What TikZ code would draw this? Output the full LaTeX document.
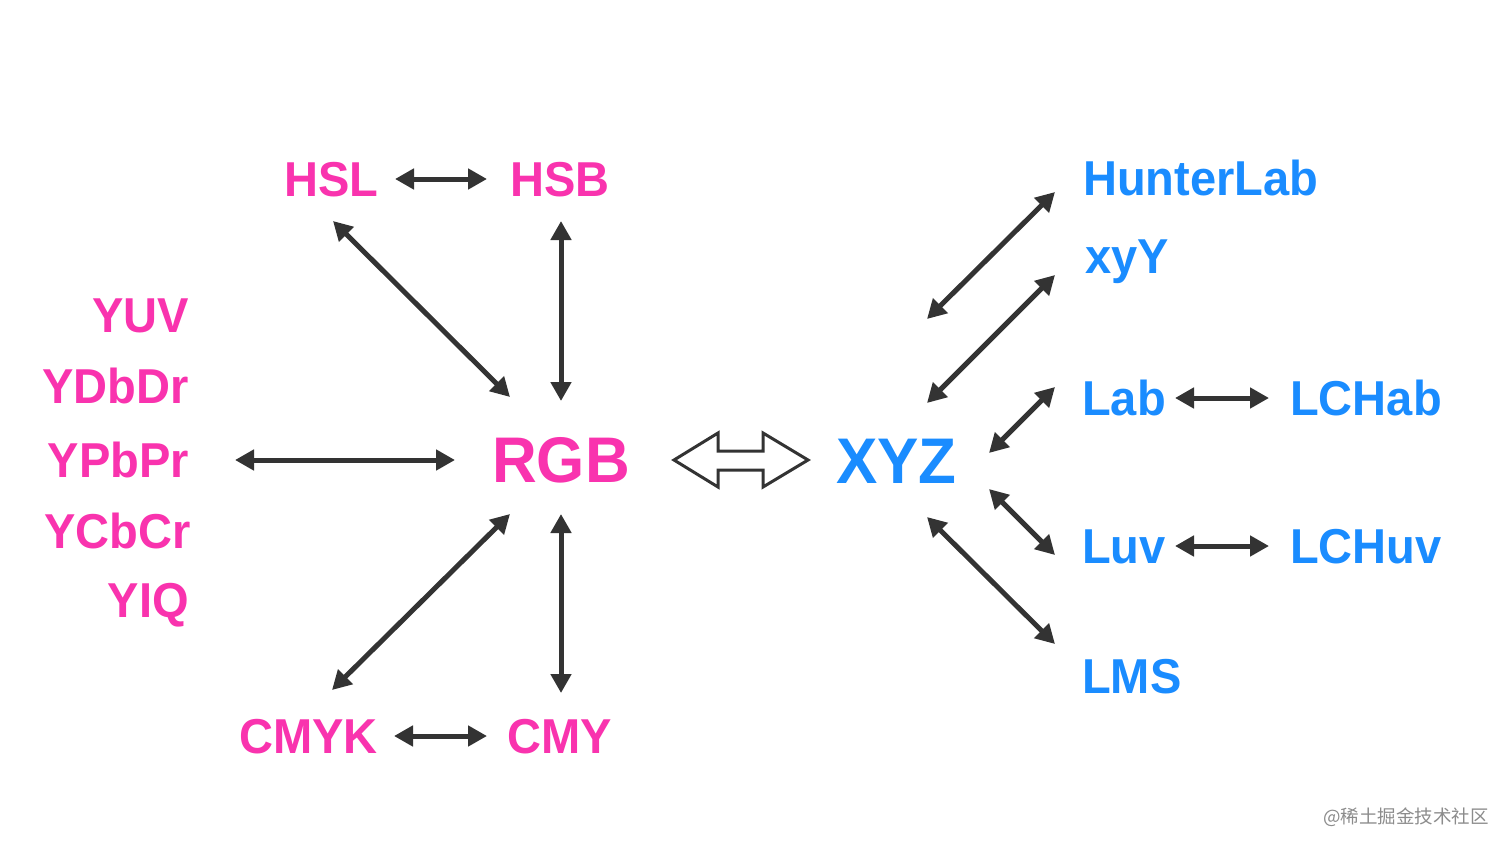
\documentclass[tikz,border=0pt]{standalone}
\usepackage{fontspec}
\setmainfont{Liberation Sans}
\newfontfamily\narrowfont[FakeStretch=0.96]{Liberation Sans}
\newfontfamily\cjk{Noto Sans CJK SC}
\usetikzlibrary{arrows.meta}
\definecolor{pinkc}{HTML}{F933AE}
\definecolor{bluec}{HTML}{1A8CFF}
\definecolor{arrc}{HTML}{333333}
\tikzset{
  lbl/.style={font=\narrowfont\bfseries\fontsize{49}{49}\selectfont, inner sep=0pt},
  big/.style={font=\narrowfont\bfseries\fontsize{64.5}{64.5}\selectfont, inner sep=0pt},
  pk/.style={text=pinkc},
  bl/.style={text=bluec},
  dbl/.style={draw=arrc, line width=5pt, {Triangle[length=19pt,width=20pt]}-{Triangle[length=19pt,width=20pt]}, color=arrc},
}
\begin{document}
\begin{tikzpicture}[x=1pt,y=-1pt]
\useasboundingbox (0,0) rectangle (1512,851);
\fill[white] (0,0) rectangle (1512,851);
% pink nodes
\node[lbl,pk,anchor=base west] (hsl) at (284,196) {HSL};
\node[lbl,pk,anchor=base west] (hsb) at (510,196) {HSB};
\node[lbl,pk,anchor=base east] (yuv) at (189,332) {YUV};
\node[lbl,pk,anchor=base east] (ydbdr) at (189,403) {YDbDr};
\node[lbl,pk,anchor=base east] (ypbpr) at (189,477) {YPbPr};
\node[lbl,pk,anchor=base east] (ycbcr) at (191,548) {YCbCr};
\node[lbl,pk,anchor=base east] (yiq) at (189,617) {YIQ};
\node[big,pk,anchor=base west] (rgb) at (492,482) {RGB};
\node[lbl,pk,anchor=base west] (cmyk) at (239,753) {CMYK};
\node[lbl,pk,anchor=base west] (cmy) at (507,753) {CMY};
% blue nodes
\node[big,bl,anchor=base west] (xyz) at (836,483) {XYZ};
\node[lbl,bl,anchor=base west] (hunter) at (1083,195) {HunterLab};
\node[lbl,bl,anchor=base west] (xyy) at (1085,273) {xyY};
\node[lbl,bl,anchor=base west] (lab) at (1082,415) {Lab};
\node[lbl,bl,anchor=base west] (lchab) at (1290,415) {LCHab};
\node[lbl,bl,anchor=base west] (luv) at (1082,563) {Luv};
\node[lbl,bl,anchor=base west] (lchuv) at (1290,563) {LCHuv};
\node[lbl,bl,anchor=base west] (lms) at (1082,693) {LMS};
% endpoints
\coordinate (a1) at (395,179); \coordinate (a2) at (487,179);
\coordinate (b1) at (333,221); \coordinate (b2) at (510,397);
\coordinate (c1) at (561,221); \coordinate (c2) at (561,401);
\coordinate (d1) at (235,460); \coordinate (d2) at (455,460);
\coordinate (e1) at (332,690); \coordinate (e2) at (510,514);
\coordinate (f1) at (561,693); \coordinate (f2) at (561,514);
\coordinate (g1) at (394,736); \coordinate (g2) at (487,736);
\coordinate (h1) at (927,319); \coordinate (h2) at (1055,192);
\coordinate (i1) at (927,403); \coordinate (i2) at (1055,275);
\coordinate (j1) at (989,453); \coordinate (j2) at (1055,387);
\coordinate (k1) at (989,489); \coordinate (k2) at (1055,555);
\coordinate (l1) at (927,517); \coordinate (l2) at (1055,644);
\coordinate (m1) at (1175,398); \coordinate (m2) at (1269,398);
\coordinate (n1) at (1175,546); \coordinate (n2) at (1269,546);
\foreach \p in {a,b,c,d,e,f,g,h,i,j,k,l,m,n}{
  \draw[dbl] (\p1) -- (\p2);
}
% hollow double arrow
\draw[arrc, line width=3pt, line join=miter, fill=white]
  (674,460) -- (718,433) -- (718,451) -- (763,451) -- (763,433) -- (808,460)
  -- (763,487) -- (763,470) -- (718,470) -- (718,487) -- cycle;
% watermark
\node[inner sep=0pt, anchor=east, text=black!45, font=\cjk\fontsize{18.5}{18.5}\selectfont] (wm) at (1489,817) {@稀土掘金技术社区};
\end{tikzpicture}
\end{document}
